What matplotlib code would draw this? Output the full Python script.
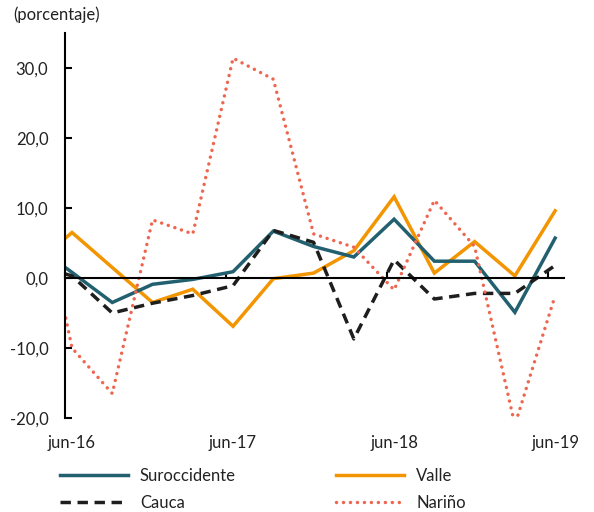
import matplotlib
matplotlib.use("Agg")
import matplotlib.pyplot as plt
import numpy as np

plt.rcParams['font.family'] = ['Lato', 'DejaVu Sans']

# Quarterly data (mar-16 lies just left of the visible axis and is clipped)
quarters = ['mar-16', 'jun-16', 'sep-16', 'dic-16', 'mar-17', 'jun-17', 'sep-17',
            'dic-17', 'mar-18', 'jun-18', 'sep-18', 'dic-18', 'mar-19', 'jun-19']
suroccidente = [5.0, 0.8, -3.5, -0.9, -0.2, 0.9, 6.7, 4.5, 3.0, 8.4, 2.4, 2.4, -4.9, 5.7]
valle = [1.6, 6.5, 1.5, -3.5, -1.6, -6.9, -0.1, 0.7, 3.9, 11.6, 0.7, 5.2, 0.3, 9.6]
cauca = [2.0, 0.3, -5.0, -3.6, -2.5, -1.1, 6.8, 5.1, -8.7, 2.6, -3.0, -2.2, -2.2, 1.8]
narino = [17.7, -10.0, -16.5, 8.3, 6.3, 31.4, 28.4, 6.3, 4.4, -1.7, 11.1, 4.5, -21.0, -2.5]

xtick_labels = ['jun-16', 'jun-17', 'jun-18', 'jun-19']
ytick_values = [-20, -10, 0, 10, 20, 30]

x = np.arange(len(quarters)) - 1  # jun-16 -> 0

fig = plt.figure(figsize=(5.94, 5.12), dpi=100)
ax = fig.add_axes([65/594, 1-418/512, (564-65)/594, (418-33)/512])

c_blue = '#23606F'
c_orange = '#F39500'
c_black = '#1E1E1E'
c_red = '#EF6650'

l_val, = ax.plot(x, valle, color=c_orange, lw=2.5, label='Valle', solid_joinstyle='miter')
l_sur, = ax.plot(x, suroccidente, color=c_blue, lw=2.5, label='Suroccidente', solid_joinstyle='miter')
l_cau, = ax.plot(x, cauca, color=c_black, lw=2.5, linestyle=(0, (3.0, 1.9)),
                 dash_capstyle='butt', label='Cauca')
l_nar, = ax.plot(x, narino, color=c_red, lw=2.5, linestyle=(0, (0.01, 2.0)),
                 dash_capstyle='round', label='Nariño')

ax.set_xlim(-0.174, 12.22)
ax.set_ylim(-20, 35)

# y axis
ax.spines['top'].set_visible(False)
ax.spines['right'].set_visible(False)
ax.spines['left'].set_linewidth(1.5)
ax.spines['left'].set_bounds(-20, 35)
ax.set_yticks(ytick_values)
ax.set_yticklabels([f"{v:.1f}".replace('.', ',') for v in ytick_values])
ax.tick_params(axis='y', direction='in', length=5, width=1.5, pad=12,
               labelsize=12, labelcolor='#222222')

# zero line acts as the x axis
ax.spines['bottom'].set_position(('data', 0))
ax.spines['bottom'].set_linewidth(1.5)
ax.set_xticks([i * 4 - 0.17 for i in range(4)])
ax.set_xticklabels([])
ax.tick_params(axis='x', direction='in', length=4, width=1.5)

sec = ax.secondary_xaxis('bottom')
sec.set_xticks([i * 4 for i in range(4)])
sec.set_xticklabels(xtick_labels)
sec.tick_params(length=0, pad=12, labelsize=12, labelcolor='#222222')
sec.spines['bottom'].set_visible(False)

fig.text(13/594, 1-15/512, '(porcentaje)', fontsize=12, color='#222222',
         ha='left', va='center')

fig.legend(handles=[l_sur, l_cau, l_val, l_nar], ncol=2, frameon=False,
           loc='upper left', bbox_to_anchor=(60/594, 1-468/512),
           borderaxespad=0, borderpad=0, fontsize=12, handlelength=4.1,
           handletextpad=0.7, columnspacing=6.0, labelspacing=0.65,
           labelcolor='#222222')

fig.savefig('out.png', dpi=100)
